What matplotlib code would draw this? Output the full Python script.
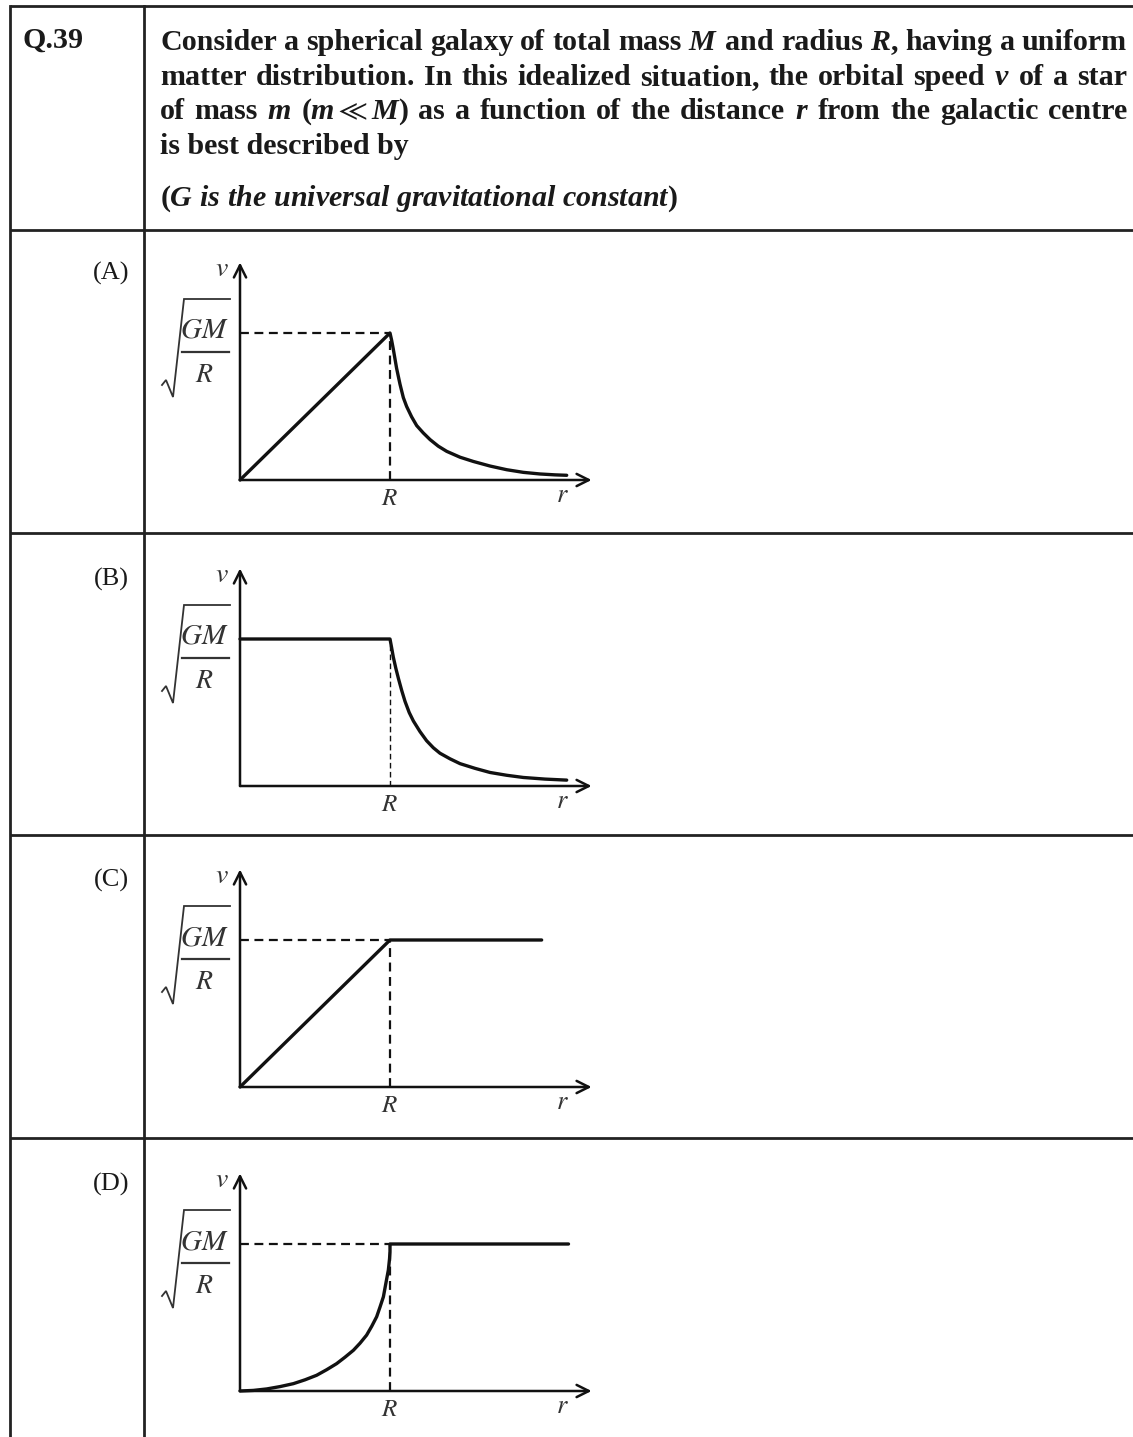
import matplotlib
matplotlib.use("Agg")
from matplotlib import pyplot as plt

W, H = 1133, 1437
DPI = 100

plt.rcParams["mathtext.fontset"] = "custom"
plt.rcParams["mathtext.rm"] = "Liberation Serif:bold"
plt.rcParams["mathtext.bf"] = "Liberation Serif:bold"
plt.rcParams["mathtext.it"] = "Liberation Serif:italic:bold"
plt.rcParams["mathtext.fallback"] = "stix"

QUESTION_NO = "Q.39"
# justified lines, one list of words per line
QUESTION_LINES = [
    "Consider a spherical galaxy of total mass $M$ and radius $R$, having a uniform".split(" "),
    "matter distribution. In this idealized situation, the orbital speed $v$ of a star".split(" "),
    ["of", "mass", "$m$", r"($m \ll M$)", "as", "a", "function", "of", "the", "distance",
     "$r$", "from", "the", "galactic", "centre"],
]
LAST_LINE = "is best described by"
NOTE_LINE = r"($G\ is\ the\ universal\ gravitational\ constant$)"

OPTIONS = ["(A)", "(B)", "(C)", "(D)"]

# curves, r in units of R, v in units of sqrt(GM/R)
CURVE_R = [
    [0, 1.0, 1.011, 1.022, 1.044, 1.067, 1.089, 1.111, 1.144, 1.178, 1.222, 1.267,
     1.322, 1.378, 1.467, 1.556, 1.667, 1.778, 1.889, 2.0, 2.1, 2.178],
    [0, 1.0, 1.011, 1.022, 1.039, 1.056, 1.078, 1.1, 1.128, 1.156, 1.2, 1.244,
     1.289, 1.333, 1.4, 1.467, 1.567, 1.667, 1.778, 1.889, 2.033, 2.178],
    [0, 1.0, 2.011],
    [0, 0.089, 0.178, 0.267, 0.356, 0.433, 0.511, 0.578, 0.644, 0.7, 0.756, 0.8,
     0.844, 0.878, 0.911, 0.933, 0.956, 0.972, 0.989, 0.997, 1.0, 1.0, 2.19],
]
CURVE_V = [
    [0, 1.0, 0.95, 0.89, 0.76, 0.65, 0.56, 0.50, 0.43, 0.37, 0.32, 0.275,
     0.23, 0.195, 0.155, 0.126, 0.095, 0.07, 0.052, 0.041, 0.035, 0.032],
    [1.0, 1.0, 0.94, 0.877, 0.80, 0.732, 0.65, 0.576, 0.50, 0.442, 0.37, 0.308,
     0.26, 0.223, 0.185, 0.152, 0.12, 0.092, 0.073, 0.058, 0.047, 0.040],
    [0, 1.0, 1.0],
    [0, 0.004, 0.014, 0.03, 0.05, 0.076, 0.107, 0.145, 0.186, 0.23, 0.277, 0.325,
     0.38, 0.44, 0.505, 0.57, 0.641, 0.73, 0.823, 0.9, 0.95, 1.0, 1.0],
]
H_DASH = [True, False, True, True]  # dashed guide at v = sqrt(GM/R)
V_DASH_LW = [1.6, 1.0, 1.6, 1.6]

R_TIP = 2.344
V_TIP = 1.48

# layout (pixels)
ROW_LINES = [6, 230, 533, 835, 1138]
LINE_Y = [50, 85, 119, 154]
LEFT_X, COL_X = 10, 144
TEXT_X0, TEXT_X1 = 160, 1127
ORIGIN_X = 240
ORIGIN_Y = [480, 786, 1087, 1391]
PX_R, PX_V = 150, 147

INK = "#1a1a1a"
LABEL_INK = "#333333"


def draw_sqrt_label(bg, level_y):
    # sqrt(GM/R) drawn by hand so the radical and fraction get the printed size
    mt = dict(math_fontfamily="stix", color=LABEL_INK, ha="center", va="center")
    bg.text(204, level_y - 3, r"$GM$", fontsize=21, **mt)
    bg.text(204, level_y + 41, r"$R$", fontsize=20, **mt)
    bg.plot([182, 229], [level_y + 19, level_y + 19], color=LABEL_INK, lw=1.6)
    bg.plot([162, 166, 173, 184, 230],
            [level_y + 52, level_y + 47, level_y + 64, level_y - 34, level_y - 34],
            color=LABEL_INK, lw=1.3, solid_joinstyle="miter")


def justify(fig, bg, words, y, style):
    renderer = fig.canvas.get_renderer()
    texts = [bg.text(0, y, w, **style) for w in words]
    widths = [t.get_window_extent(renderer).width for t in texts]
    gap = (TEXT_X1 - TEXT_X0 - sum(widths)) / (len(words) - 1)
    x = TEXT_X0
    for t, w in zip(texts, widths):
        t.set_x(x)
        x += w + gap


def main():
    fig = plt.figure(figsize=(W / DPI, H / DPI), dpi=DPI)
    fig.patch.set_facecolor("white")

    # table + text overlay in pixel coords
    bg = fig.add_axes([0, 0, 1, 1])
    bg.set_xlim(0, W)
    bg.set_ylim(H, 0)
    bg.axis("off")

    for y in ROW_LINES:
        bg.plot([LEFT_X, W], [y, y], color="#222222", lw=2.0, solid_capstyle="butt")
    bg.plot([LEFT_X, LEFT_X], [ROW_LINES[0], H], color="#222222", lw=2.0)
    bg.plot([COL_X, COL_X], [ROW_LINES[0], H], color="#222222", lw=2.0)

    body = dict(family="Liberation Serif", weight="bold", fontsize=21.6,
                va="baseline", ha="left", color=INK)
    bg.text(22, 48, QUESTION_NO, **body)
    for words, y in zip(QUESTION_LINES, LINE_Y):
        justify(fig, bg, words, y, body)
    bg.text(TEXT_X0, LINE_Y[3], LAST_LINE, **body)
    bg.text(TEXT_X0, 206, NOTE_LINE, **body)

    for lab, oy in zip(OPTIONS, ORIGIN_Y):
        bg.text(129, oy - 207, lab, family="Liberation Serif", fontsize=19,
                ha="right", va="center", color=INK)
        draw_sqrt_label(bg, oy - PX_V)

    # panels
    for k, oy in enumerate(ORIGIN_Y):
        left_px, right_px = 150, 620
        top_px, bot_px = oy - 240, oy + 40
        ax = fig.add_axes([left_px / W, 1 - bot_px / H,
                           (right_px - left_px) / W, (bot_px - top_px) / H])
        ax.set_xlim((left_px - ORIGIN_X) / PX_R, (right_px - ORIGIN_X) / PX_R)
        ax.set_ylim(-40 / PX_V, 240 / PX_V)
        ax.axis("off")

        arrow = dict(arrowstyle="->", lw=1.8, color="#111111", mutation_scale=22,
                     shrinkA=0, shrinkB=0)
        ax.annotate("", xy=(R_TIP, 0), xytext=(0, 0), arrowprops=arrow)
        ax.annotate("", xy=(0, V_TIP), xytext=(0, 0), arrowprops=arrow)

        if H_DASH[k]:
            ax.plot([0, 1], [1, 1], color="#111111", lw=1.6, ls=(0, (4, 2.5)))
        ax.plot([1, 1], [0, 1], color="#111111", lw=V_DASH_LW[k], ls=(0, (4, 2.5)))

        ax.plot(CURVE_R[k], CURVE_V[k], color="#111111", lw=2.4,
                solid_capstyle="round", solid_joinstyle="round", clip_on=False)

        mt = dict(math_fontfamily="stix", color=LABEL_INK)
        ax.text(-0.12, 1.44, r"$v$", fontsize=20, ha="center", va="center", **mt)
        ax.text(1.0, -0.12, r"$R$", fontsize=18, ha="center", va="center", **mt)
        ax.text(2.15, -0.10, r"$r$", fontsize=19, ha="center", va="center", **mt)

    fig.savefig("out.png", dpi=DPI, facecolor="white")


if __name__ == "__main__":
    main()
